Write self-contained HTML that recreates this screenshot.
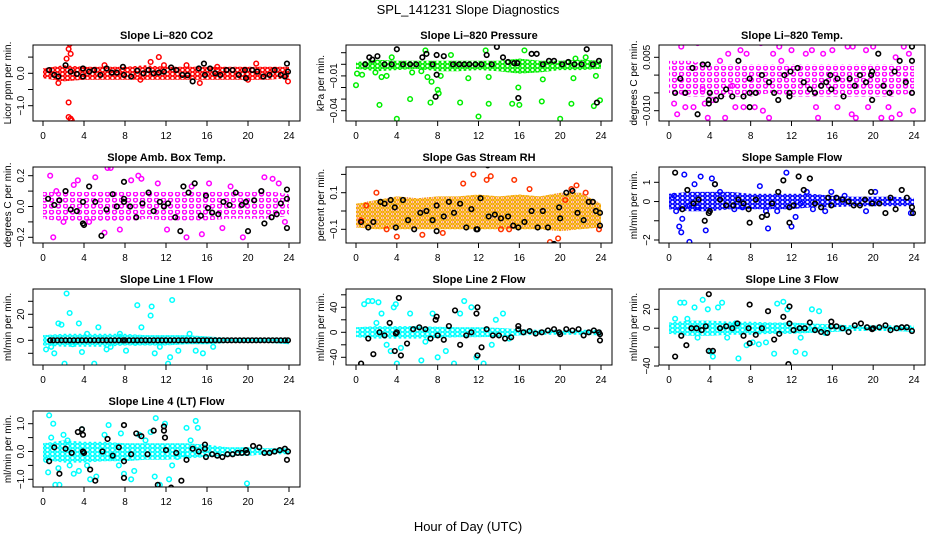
<!DOCTYPE html>
<html><head><meta charset="utf-8"><style>
html,body{margin:0;padding:0;background:#fff;}
svg{display:block;font-family:"Liberation Sans",Arial,sans-serif;}
</style></head><body>
<svg id="chart" width="936" height="540" viewBox="0 0 936 540">
<defs id="defs"></defs>
<text x="468" y="14" text-anchor="middle" font-size="13">SPL_141231  Slope Diagnostics</text>
<text x="468" y="531" text-anchor="middle" font-size="13">Hour of Day (UTC)</text>
</svg>
<script>
// ---------- data ----------
const xTicks = [0,4,8,12,16,20,24];
const bandHours = [0,2,4,6,8,10,12,14,16,18,20,22,24];

const co2Lo = [-0.15,-0.25,-0.2,-0.2,-0.2,-0.2,-0.2,-0.2,-0.2,-0.2,-0.2,-0.2,-0.15];
const co2Hi = [0.15,0.25,0.2,0.2,0.2,0.25,0.2,0.2,0.2,0.2,0.2,0.2,0.2];
const co2Pts = [[2.3,0.45],[2.5,0.75],[2.6,0.9],[2.7,0.6],[2.5,-0.9],[2.5,-1.35],[2.7,-1.4],[2.8,-1.45],[1.5,-0.3],[9.5,-0.2],[10.5,0.35],[11.3,0.5],[11.8,0.25],[15.3,-0.3],[20.8,0.3],[20,-0.2],[23.9,-0.25],[6,0.25],[14,0.25],[17,0.2]];
const co2Blk = [[0.6,0.1],[1.1,-0.05],[1.5,-0.1],[2.2,0.25],[2.7,0.05],[3.3,-0.02],[3.9,0.15],[3.9,-0.1],[4.5,0.05],[5.0,0.1],[5.6,-0.05],[6.2,0.15],[6.7,0.02],[7.2,0.02],[7.8,0.2],[7.9,-0.05],[8.6,-0.1],[9.2,0.08],[9.8,0.0],[10.3,0.1],[10.8,0.0],[11.3,0.02],[11.8,0.05],[12.5,0.18],[13,0.1],[13.6,-0.05],[14.1,-0.06],[14.6,-0.25],[15.2,0.15],[15.7,0.3],[15.8,-0.05],[16.3,0.15],[16.8,0.0],[17.3,-0.05],[17.9,0.1],[18.5,0.1],[19.1,-0.05],[19.7,0.1],[19.8,-0.15],[20.4,0.1],[20.9,0.05],[21.5,-0.1],[22.1,-0.05],[22.6,0.1],[23.2,-0.05],[23.8,0.3],[23.9,0.05],[23.6,-0.1]];

const presLo = [-0.004,-0.006,-0.005,-0.004,-0.006,-0.006,-0.005,-0.006,-0.008,-0.007,-0.005,-0.005,-0.004];
const presHi = [0.002,0.004,0.003,0.003,0.003,0.003,0.003,0.003,0.005,0.003,0.003,0.004,0.003];
const presPts = [[0,-0.018],[0.1,-0.008],[0.6,-0.009],[1.9,-0.007],[2.3,-0.035],[2.5,-0.011],[3,-0.01],[3.5,0.006],[4,-0.047],[5.3,-0.03],[5.5,-0.007],[6.4,-0.006],[6.8,0.012],[7,-0.011],[7.3,-0.033],[7.4,-0.015],[8,-0.022],[8.1,-0.025],[8.3,-0.01],[9.3,0.008],[10.2,-0.033],[11,-0.012],[12,-0.045],[12.7,0.012],[13,-0.034],[13,-0.011],[15.3,-0.034],[15.9,-0.02],[16,-0.035],[16.5,0.012],[18.2,-0.032],[18.3,-0.013],[20,-0.047],[21.1,-0.034],[21.3,-0.012],[21.5,0.005],[22.5,0.006],[23.3,-0.036],[23.5,-0.01],[23.9,-0.031]];
const presBlk = [[0.9,0],[1.3,0.006],[1.6,0.004],[2.1,0.007],[2.8,0],[3.5,0],[4.0,0.013],[4.6,0],[5.3,0],[5.9,0],[6.5,0.006],[6.9,0.009],[7.5,0],[7.9,-0.009],[7.9,0.008],[7.8,-0.028],[8.6,0.007],[9.5,0],[10.1,0],[10.6,0],[11.1,0],[11.7,0],[12.3,0],[12.8,0.008],[13.3,0],[13.8,0.015],[14.4,0.006],[14.9,0.002],[15.5,0.001],[15.9,-0.029],[15.8,0.001],[17.2,0.009],[17.7,0.009],[18.3,0],[18.9,0.003],[19.4,0.003],[20.2,0],[20.8,0.002],[21.4,0],[22.1,0],[22.6,0.013],[23.2,0],[23.8,0.003],[23.6,-0.033]];

const tempLo = [-0.005,-0.006,-0.006,-0.006,-0.006,-0.005,-0.006,-0.006,-0.006,-0.006,-0.006,-0.006,-0.005];
const tempHi = [0.004,0.004,0.003,0.003,0.003,0.003,0.003,0.003,0.003,0.003,0.003,0.003,0.003];
const tempPts = [[0.5,-0.008],[0.8,-0.011],[1.2,0.008],[1.5,-0.005],[1.6,-0.009],[2.4,-0.009],[2.8,0.009],[3.3,-0.004],[3.5,-0.008],[3.8,-0.012],[4.3,-0.007],[5.0,0.004],[5.5,-0.012],[5.8,0.006],[6.2,-0.003],[6.5,-0.009],[7.0,0.007],[7.3,-0.009],[7.6,0.006],[8.4,-0.009],[8.6,-0.015],[9.0,0.009],[9.2,-0.01],[9.8,-0.012],[10.2,0.006],[10.8,0.008],[11.0,0.004],[12.0,0.007],[12.7,-0.014],[13.4,0.006],[14.0,0.007],[14.4,-0.009],[14.6,-0.012],[15.1,0.006],[16.0,0.007],[16.5,-0.009],[17.5,0.008],[18.0,0.008],[17.9,-0.011],[18.3,-0.012],[19.3,0.007],[19.5,-0.009],[20.0,0.008],[20.8,-0.012],[21.0,0.01],[21.5,-0.009],[21.8,-0.012],[22.2,0.005],[22.6,-0.011],[23.0,0.008],[23.9,-0.01],[23.5,0.006]];
const tempBlk = [[0.6,-0.005],[1.1,-0.001],[1.6,-0.005],[2.3,0.002],[2.8,-0.011],[3.3,0.003],[3.8,0.003],[3.9,-0.008],[3.9,-0.007],[4.0,-0.005],[4.6,-0.007],[5.1,-0.006],[5.6,-0.004],[6.2,-0.006],[6.8,0.004],[7.3,-0.006],[7.9,-0.005],[7.9,-0.009],[7.9,-0.001],[8.5,-0.005],[9.1,0.0],[9.8,-0.002],[10.3,-0.005],[10.7,-0.007],[11.3,0.0],[11.8,-0.005],[11.8,-0.006],[11.9,0.001],[12.6,0.002],[13.2,-0.002],[13.8,-0.004],[14.3,-0.005],[14.9,-0.003],[15.4,-0.002],[15.8,0.0],[15.9,-0.004],[16.5,-0.001],[17.1,-0.006],[17.7,-0.001],[18.2,-0.003],[18.7,0.0],[19.3,-0.002],[19.8,0.0],[19.9,0.001],[19.9,-0.007],[20.5,0.006],[21.0,-0.003],[21.6,-0.005],[22.1,0.001],[22.6,0.004],[23.2,-0.002],[23.8,0.008],[23.8,0.004],[23.8,-0.005]];

const ambLo = [-0.08,-0.1,-0.1,-0.1,-0.1,-0.08,-0.09,-0.09,-0.09,-0.08,-0.08,-0.08,-0.06];
const ambHi = [0.1,0.1,0.1,0.1,0.1,0.1,0.1,0.1,0.1,0.1,0.1,0.1,0.08];
const ambPts = [[0.7,0.2],[1.0,-0.2],[1.3,0.1],[2.0,-0.1],[3.0,0.14],[3.4,0.17],[4.5,-0.1],[5.1,0.19],[6.0,-0.17],[6.3,0.25],[6.6,0.25],[7.5,-0.15],[8.6,0.17],[9.3,0.2],[9.6,0.18],[11.2,0.15],[12.1,-0.15],[13.2,-0.27],[14.0,-0.2],[14.5,0.13],[15.5,-0.18],[16.2,0.15],[17.5,-0.14],[18.3,0.13],[19.5,-0.2],[21.6,0.19],[22.4,0.18],[23.0,0.15],[23.6,-0.1]];
const ambBlk = [[0.5,0.05],[1.1,0.01],[1.6,0.04],[2.2,0.1],[2.7,-0.02],[3.3,-0.03],[3.9,0.03],[3.9,-0.11],[4.0,-0.12],[4.5,0.13],[5.1,0.03],[5.7,-0.19],[6.2,-0.02],[6.8,0.08],[7.2,0.0],[7.9,0.16],[7.9,0.05],[7.9,0.03],[8.5,0.0],[9.1,-0.07],[9.7,0.02],[10.3,0.09],[10.8,-0.03],[11.4,0.03],[11.8,0.0],[12.2,0.02],[12.9,-0.07],[13.4,-0.16],[13.7,0.13],[14.2,0.09],[14.8,0.15],[15.4,-0.06],[15.9,0.07],[16.1,-0.01],[16.5,-0.04],[17.1,-0.05],[17.6,0.03],[18.2,0.01],[18.8,0.09],[19.4,0.01],[19.8,0.03],[20.0,-0.16],[20.6,0.04],[21.3,0.1],[21.6,-0.11],[22.3,-0.07],[22.8,-0.05],[23.2,0.02],[23.8,0.11],[23.8,0.05],[23.8,-0.14]];

const rhLo = [-0.09,-0.1,-0.1,-0.1,-0.1,-0.1,-0.1,-0.1,-0.1,-0.1,-0.11,-0.1,-0.09];
const rhHi = [0.04,0.06,0.08,0.07,0.08,0.08,0.09,0.08,0.09,0.08,0.1,0.1,0.04];
const rhPts = [[0.5,-0.05],[1.0,0.03],[2.0,0.1],[3.0,-0.1],[4.0,-0.14],[5.5,-0.2],[6.5,-0.13],[8.5,-0.12],[10.5,0.15],[11.5,0.2],[12.8,0.17],[13.2,0.19],[14.2,-0.1],[15,-0.1],[15.5,0.17],[17,0.12],[19,-0.17],[19.8,-0.15],[20.5,0.06],[21.1,0.12],[21.6,0.14],[22.5,0.1],[23.8,-0.1]];
const rhBlk = [[0.5,-0.06],[1.2,-0.09],[1.7,-0.06],[2.4,0.05],[2.8,0.04],[3.4,0.06],[3.8,0.02],[3.9,-0.09],[4.6,0.06],[5.1,-0.05],[5.7,-0.1],[6.3,-0.01],[6.9,0.0],[7.5,-0.05],[7.9,0.03],[7.9,-0.11],[8.6,-0.03],[9.1,0.05],[9.6,-0.01],[10.2,0.04],[10.8,-0.09],[11.3,0.01],[11.8,-0.1],[11.9,-0.1],[12.2,0.07],[12.9,0.25],[13.0,-0.03],[13.6,-0.02],[14.2,-0.04],[14.9,-0.03],[15.4,-0.08],[15.9,-0.09],[16.5,-0.06],[17.2,0.0],[17.8,-0.09],[18.3,0.0],[18.8,-0.09],[19.4,-0.18],[19.9,0.02],[20.0,-0.04],[20.6,0.1],[21.2,0.11],[21.7,-0.01],[22.3,-0.05],[22.8,0.05],[23.2,0.05],[23.5,0.0],[23.9,-0.01],[23.9,-0.08]];

const sfLo = [-0.4,-0.5,-0.5,-0.4,-0.4,-0.4,-0.4,-0.3,-0.3,-0.25,-0.25,-0.25,-0.25];
const sfHi = [0.4,0.5,0.5,0.5,0.4,0.4,0.4,0.4,0.3,0.25,0.25,0.25,0.2];
const sfPts = [[0.5,0.3],[0.7,-0.5],[1.0,-1.3],[1.3,-0.9],[1.5,1.4],[2.0,-0.2],[2.5,0.9],[2.8,-0.3],[3.1,1.3],[3.6,-1.5],[4.2,1.2],[4.5,0.9],[5.0,0.5],[6.4,-0.4],[7.2,-0.3],[8.9,0.8],[9.5,-0.5],[9.7,-1.4],[10.6,-0.5],[11.5,1.5],[12.0,-1.3],[12.4,-0.8],[12.9,-0.1],[13.5,0.5],[14.1,-0.4],[15.3,-0.5],[15.9,0.5],[17.2,0.3],[19.3,-0.5],[20.2,0.5],[23.7,-0.6],[1.2,-1.6],[2.0,-2.1]];
const sfBlk = [[0.6,1.5],[1.3,-0.4],[1.8,0.6],[2.4,-0.1],[2.9,0.1],[3.5,-1.0],[3.9,-0.6],[4.0,-0.5],[4.5,0.9],[5.0,0.1],[5.6,-0.2],[6.3,-0.2],[6.8,0.1],[7.3,-0.1],[7.8,-0.4],[7.9,-1.1],[8.5,0.1],[9.1,-0.8],[9.6,-0.7],[10.1,-0.1],[10.7,0.5],[11.2,1.1],[11.8,-1.1],[11.8,-0.3],[12.2,-0.2],[12.7,1.3],[13.2,0.6],[13.8,1.2],[14.3,-0.1],[14.9,-0.3],[15.6,0.2],[15.9,-0.2],[16.4,0.2],[17.0,0.1],[17.6,0.0],[18.1,-0.2],[18.7,-0.2],[19.2,0.1],[19.8,0.5],[19.9,-0.1],[20.6,-0.1],[21.2,-0.6],[21.7,0.2],[22.2,-0.4],[22.8,0.6],[23.3,0.2],[23.8,-0.3],[23.9,-0.6]];

const l1Lo = [-4,-5,-5,-5,-4,-4,-4,-3,-3,-2,-2,-2,-3];
const l1Hi = [4,5,5,5,5,4,4,4,3,2,2,2,2];
const l1Pts = [[0.3,-7],[0.8,-5],[1.1,-10],[1.5,13],[1.8,12],[2.1,-18],[2.3,36],[2.6,21],[2.9,-3],[3.5,13],[3.8,-9],[4.3,5],[5.0,-18],[5.4,10],[6.2,-7],[6.6,-5],[7.5,5],[8.1,-8],[9.0,-2],[9.2,27],[9.6,10],[10.5,19],[10.6,26],[10.9,-10],[11.4,-5],[12.2,-18],[12.4,-13],[12.6,31],[13.2,-8],[14.3,5],[14.9,-8],[15.6,-10],[16.6,-5]];
const l1Blk = [[0.7,0],[1.0,0],[1.4,0],[1.8,0],[2.2,0],[2.6,0],[3.0,0],[3.4,0],[3.8,0],[4.2,0],[4.6,0],[5.0,0],[5.4,0],[5.8,0],[6.2,0],[6.6,0],[7.0,0],[7.4,0],[7.8,0],[8.0,0],[8.4,0],[8.8,0],[9.2,0],[9.6,0],[10.0,0],[10.4,0],[10.8,0],[11.2,0],[11.6,0],[12.0,0],[12.4,0],[12.8,0],[13.2,0],[13.6,0],[14.0,0],[14.4,0],[14.8,0],[15.2,0],[15.6,0],[16.0,0],[16.4,0],[16.8,0],[17.2,0],[17.6,0],[18.0,0],[18.4,0],[18.8,0],[19.2,0],[19.6,0],[20.0,0],[20.4,0],[20.8,0],[21.2,0],[21.6,0],[22.0,0],[22.4,0],[22.8,0],[23.2,0],[23.6,0],[23.9,0]];

const l2Lo = [-8,-10,-10,-10,-9,-8,-8,-7,-5,-4,-4,-4,-5];
const l2Hi = [8,10,10,10,9,8,8,7,5,4,4,4,4];
const l2Pts = [[0.8,45],[1.2,50],[1.6,50],[2.2,48],[2.5,30],[3.0,-20],[3.4,-30],[3.7,40],[3.9,45],[4.0,-50],[4.4,-25],[5.3,30],[6.4,-45],[6.8,-15],[7.5,30],[8.0,-40],[8.8,-30],[9.6,-50],[10.2,30],[10.6,50],[11.3,40],[11.8,-40],[12.5,-50],[13.3,-20],[13.7,20],[14.4,30],[15.0,-10],[2.0,15]];
const l2Blk = [[0.5,-50],[1.2,-10],[1.7,-35],[2.3,0],[2.8,-5],[3.3,15],[3.8,-30],[3.9,-2],[4.0,0],[4.2,55],[4.4,-37],[5.0,-18],[5.6,5],[6.2,8],[6.8,5],[7.3,-10],[7.8,20],[7.9,25],[8.0,-5],[8.6,-12],[9.1,10],[9.7,35],[10.2,-20],[10.8,-5],[11.3,0],[11.8,30],[11.9,40],[11.9,-37],[12.3,-24],[12.8,5],[13.4,-5],[14.0,-5],[14.6,-10],[15.2,-8],[15.9,10],[15.9,5],[16.4,0],[17.0,2],[17.6,-2],[18.2,0],[18.8,3],[19.4,5],[19.9,0],[20.0,-3],[20.6,5],[21.2,3],[21.8,5],[22.3,-5],[22.8,0],[23.3,3],[23.8,0],[23.9,-13],[23.9,-3]];

const l3Lo = [-6,-8,-8,-7,-7,-6,-6,-5,-4,-3,-3,-3,-4];
const l3Hi = [6,8,8,7,7,6,6,5,4,3,3,3,3];
const l3Pts = [[0.6,10],[1.1,27],[1.5,27],[1.8,10],[2.5,22],[2.8,-10],[3.3,30],[3.8,20],[4.1,-25],[4.3,-30],[4.8,22],[5.2,27],[5.7,-10],[6.5,5],[6.8,-32],[7.6,-18],[8.2,-15],[8.8,-17],[9.5,-15],[10.3,-27],[10.6,26],[11.2,28],[11.6,20],[12.4,-25],[12.9,-10],[13.3,-27],[14.0,20],[14.7,18],[15.3,-5]];
const l3Blk = [[0.6,-30],[1.2,-8],[1.7,-18],[2.2,0],[2.7,0],[3.2,-2],[3.6,2],[3.9,36],[3.9,-24],[4.3,-24],[5.0,0],[5.6,2],[6.2,0],[6.7,5],[7.3,-8],[7.8,0],[7.9,25],[7.9,-16],[8.5,-7],[9.1,0],[9.7,18],[10.3,-12],[10.8,-6],[11.2,12],[11.7,-38],[11.8,23],[11.8,5],[12.2,-2],[12.8,0],[13.3,0],[13.8,6],[14.3,-2],[14.9,-4],[15.5,-5],[15.9,7],[15.9,2],[16.4,2],[17.0,0],[17.6,-4],[18.2,3],[18.8,5],[19.4,1],[19.9,-1],[20.0,0],[20.6,1],[21.2,3],[21.7,-2],[22.3,0],[22.8,1],[23.3,1],[23.8,-3]];

const l4Lo = [-0.3,-0.4,-0.4,-0.35,-0.35,-0.3,-0.3,-0.25,-0.2,-0.15,-0.15,-0.1,-0.1];
const l4Hi = [0.3,0.4,0.35,0.35,0.3,0.3,0.3,0.3,0.25,0.15,0.15,0.12,0.12];
const l4Pts = [[0.3,-0.3],[0.5,-0.75],[0.6,1.3],[0.8,0.5],[1.0,1.0],[1.2,-1.2],[1.5,-0.6],[1.6,-1.2],[2.0,0.6],[2.4,0.4],[2.6,-0.5],[3.0,-0.8],[3.5,-0.7],[3.8,0.8],[4.3,-0.5],[4.6,-1.0],[5.2,-0.9],[6.0,0.6],[6.4,0.95],[6.8,-0.2],[7.4,-0.5],[7.6,0.65],[7.9,-0.8],[8.6,-1.0],[8.9,-0.7],[9.4,0.6],[10.0,0.4],[10.5,0.7],[10.9,-0.9],[11.0,1.2],[11.4,-1.2],[11.9,1.0],[12.3,-1.0],[12.6,-0.5],[13.1,-0.2],[13.7,-0.1],[14.0,0.85],[14.4,0.4],[14.9,1.1],[15.1,0.85],[19.9,-1.15]];
const l4Blk = [[0.6,-0.35],[1.1,0.15],[1.6,-0.8],[2.2,0.1],[2.8,-0.05],[3.4,0.7],[3.8,0.8],[3.9,0.6],[3.9,0.0],[4.0,-0.05],[4.6,-0.65],[5.1,-1.05],[5.8,0.0],[6.3,0.45],[6.8,-0.15],[7.4,0.15],[7.9,0.95],[7.9,-0.95],[7.9,-0.35],[8.6,-0.1],[9.1,0.65],[9.6,0.55],[10.2,-0.1],[10.8,0.75],[11.2,-1.2],[11.8,0.9],[11.8,0.75],[11.9,0.5],[12.0,0.05],[12.5,-1.3],[13.0,-0.05],[13.5,-1.05],[14.0,-0.3],[14.6,0.1],[15.2,0.0],[15.8,0.25],[15.8,0.1],[15.9,-0.2],[16.5,-0.1],[17.0,-0.15],[17.5,-0.2],[18.0,-0.1],[18.5,-0.1],[19.0,-0.05],[19.4,-0.05],[19.8,0.05],[19.9,-0.05],[20.5,0.2],[21.1,0.15],[21.6,-0.05],[22.1,-0.05],[22.6,0.0],[23.1,0.05],[23.6,0.1],[23.8,-0.3],[23.9,0.0]];

// ---------- layout ----------
const NS = "http://www.w3.org/2000/svg";
const svg = document.getElementById("chart");
const defs = document.getElementById("defs");
const cols = [{l:33,r:300},{l:346,r:612},{l:659,r:925}];
const rowTops = [45,167,289,411];
const H = 76;

const panels = [
 {key:"co2", title:"Slope Li\u2013820 CO2", ylab:"Licor ppm per min.", c:0, r:0, ref:[0,28.3,-1,60.7], ticks:[0.5,0,-0.5,-1], labels:{"0":"0.0","-1":"\u22121.0"}, color:"#ff0000", lo:co2Lo, hi:co2Hi, pts:co2Pts, blk:co2Blk},
 {key:"pres", title:"Slope Li\u2013820 Pressure", ylab:"kPa per min.", c:1, r:0, ref:[0,19.3,-0.04,65.7], ticks:[0.01,0,-0.01,-0.02,-0.03,-0.04], labels:{"-0.01":"\u22120.01","-0.04":"\u22120.04"}, color:"#00ee00", lo:presLo, hi:presHi, pts:presPts, blk:presBlk},
 {key:"temp", title:"Slope Li\u2013820 Temp.", ylab:"degrees C per min.", c:2, r:0, ref:[0.005,12.3,-0.01,65.7], ticks:[0.005,0,-0.005,-0.01], labels:{"0.005":"0.005","-0.01":"\u22120.010"}, color:"#ff00ff", sparse:true, lo:tempLo, hi:tempHi, pts:tempPts, blk:tempBlk},
 {key:"amb", title:"Slope Amb. Box Temp.", ylab:"degrees C per min.", c:0, r:1, ref:[0.2,8.7,-0.2,70.3], ticks:[0.2,0.1,0,-0.1,-0.2], labels:{"0.2":"0.2","0":"0.0","-0.2":"\u22120.2"}, color:"#ff00ff", sparse:true, lo:ambLo, hi:ambHi, pts:ambPts, blk:ambBlk},
 {key:"rh", title:"Slope Gas Stream RH", ylab:"percent per min.", c:1, r:1, ref:[0.1,25.7,-0.1,62.3], ticks:[0.2,0.1,0,-0.1], labels:{"0.1":"0.1","-0.1":"\u22120.1"}, color:"#f5a500", pcolor:"#ff3300", lo:rhLo, hi:rhHi, pts:rhPts, blk:rhBlk},
 {key:"sf", title:"Slope Sample Flow", ylab:"ml/min per min.", c:2, r:1, ref:[1,15.3,-2,73], ticks:[1,0,-1,-2], labels:{"1":"1","0":"0","-2":"\u22122"}, color:"#0000ff", lo:sfLo, hi:sfHi, pts:sfPts, blk:sfBlk},
 {key:"l1", title:"Slope Line 1 Flow", ylab:"ml/min per min.", c:0, r:2, ref:[20,25.3,0,51.3], ticks:[30,20,10,0,-10,-20], labels:{"20":"20","0":"0","-20":"\u221220"}, color:"#00ffff", lo:l1Lo, hi:l1Hi, pts:l1Pts, blk:l1Blk},
 {key:"l2", title:"Slope Line 2 Flow", ylab:"ml/min per min.", c:1, r:2, ref:[40,18.3,-40,68.3], ticks:[60,40,20,0,-20,-40], labels:{"40":"40","0":"0","-40":"\u221240"}, color:"#00ffff", lo:l2Lo, hi:l2Hi, pts:l2Pts, blk:l2Blk},
 {key:"l3", title:"Slope Line 3 Flow", ylab:"ml/min per min.", c:2, r:2, ref:[20,20.3,-40,77], ticks:[20,0,-20,-40], labels:{"20":"20","0":"0","-40":"\u221240"}, color:"#00ffff", lo:l3Lo, hi:l3Hi, pts:l3Pts, blk:l3Blk},
 {key:"l4", title:"Slope Line 4 (LT) Flow", ylab:"ml/min per min.", c:0, r:3, ref:[1,12.7,-1,68.3], ticks:[1,0.5,0,-0.5,-1], labels:{"1":"1.0","0":"0.0","-1":"\u22121.0"}, color:"#00ffff", lo:l4Lo, hi:l4Hi, pts:l4Pts, blk:l4Blk}
];

function mk(tag, attrs, parent){
  const e = document.createElementNS(NS, tag);
  for (const k in attrs) e.setAttribute(k, attrs[k]);
  (parent||svg).appendChild(e);
  return e;
}

panels.forEach(p => {
  const L = cols[p.c].l, R = cols[p.c].r, T = rowTops[p.r], B = T + H;
  const xs = h => L + 10 + h * (R - L - 21) / 24;
  const ys = v => T + p.ref[1] + (v - p.ref[0]) * (p.ref[3] - p.ref[1]) / (p.ref[2] - p.ref[0]);
  const g = mk("g", {});
  
  

  // speckle texture pattern for dense cloud
  const pw = p.sparse ? 7 : 5, ph = p.sparse ? 6 : 4;
  const pat = mk("pattern", {id:"pat-"+p.key, width:pw, height:ph, patternUnits:"userSpaceOnUse"}, defs);
  mk("circle", {cx:2.5, cy:2, r:2, fill:"none", stroke:p.color, "stroke-width":1.4}, pat);
  if (p.key === "rh") mk("rect", {x:2, y:1.5, width:1, height:1, fill:"#ff2200"}, pat);

  const clip = mk("clipPath", {id:"clip-"+p.key}, g);
  mk("rect", {x:L, y:T, width:R-L, height:H}, clip);
  const plot = mk("g", {"clip-path":"url(#clip-"+p.key+")"}, g);
  
  

  let d = "";
  bandHours.forEach((h,i) => { d += (i ? "L" : "M") + xs(h).toFixed(1) + "," + ys(p.hi[i]).toFixed(1); });
  for (let i = bandHours.length - 1; i >= 0; i--) d += "L" + xs(bandHours[i]).toFixed(1) + "," + ys(p.lo[i]).toFixed(1);
  const band = mk("path", {d: d + "Z", fill: "url(#pat-"+p.key+")", stroke: "none"}, plot);
  
  

  p.pts.forEach(pt => {
    const c = mk("circle", {cx: xs(pt[0]), cy: ys(pt[1]), r: 2.3, fill: "none", stroke: p.pcolor || p.color, "stroke-width": 1.5}, plot);
    
    
  });
  p.blk.forEach(pt => {
    const c = mk("circle", {cx: xs(pt[0]), cy: ys(pt[1]), r: 2.3, fill: "none", stroke: "#000", "stroke-width": 1.6}, plot);
    
    
  });

  const box = mk("rect", {x:L, y:T, width:R-L, height:H, fill:"none", stroke:"#000", "stroke-width":1}, g);
  
  

  const title = mk("text", {x:(L+R)/2, y:T-6, "text-anchor":"middle", "font-size":11, "font-weight":"bold"}, g);
  title.textContent = p.title;
  
  

  xTicks.forEach(t => {
    const x = xs(t);
    mk("line", {x1:x, x2:x, y1:B, y2:B+5, stroke:"#000"}, g);
    const tl = mk("text", {x:x, y:B+18, "text-anchor":"middle", "font-size":10}, g);
    tl.textContent = t;
    
    
  });
  p.ticks.forEach(t => {
    const y = ys(t);
    if (y < T - 1 || y > B + 1) return;
    mk("line", {x1:L-5, x2:L, y1:y, y2:y, stroke:"#000"}, g);
    const lab = p.labels[String(t)];
    if (lab) {
      const tl = mk("text", {x:L-9, y:y, "text-anchor":"middle", "font-size":10, transform:"rotate(-90 "+(L-9)+" "+y+")"}, g);
      tl.textContent = lab;
      
      
    }
  });
  const yl = mk("text", {x:L-22, y:(T+B)/2, "text-anchor":"middle", "font-size":10, transform:"rotate(-90 "+(L-22)+" "+((T+B)/2)+")"}, g);
  yl.textContent = p.ylab;
  
  
});
</script>
</body></html>
